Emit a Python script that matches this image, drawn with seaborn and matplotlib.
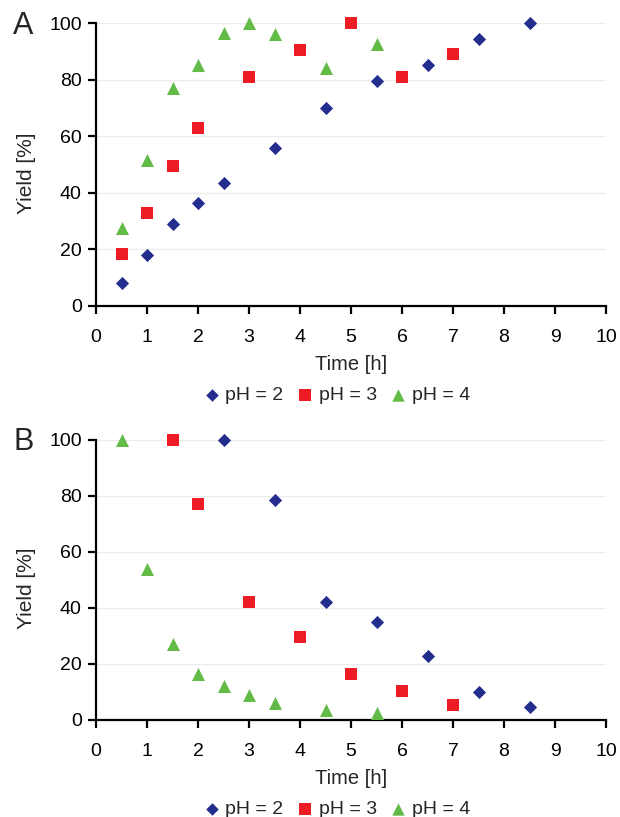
import pandas as pd
import seaborn as sns
import matplotlib.pyplot as plt

# Panel A data
a_ph2_t = [0.5, 1, 1.5, 2, 2.5, 3.5, 4.5, 5.5, 6.5, 7.5, 8.5]
a_ph2_y = [8, 18, 29, 36.5, 43.5, 56, 70, 79.5, 85, 94.5, 100]
a_ph3_t = [0.5, 1, 1.5, 2, 3, 4, 5, 6, 7]
a_ph3_y = [18.5, 33, 49.5, 63, 81, 90.5, 100, 81, 89]
a_ph4_t = [0.5, 1, 1.5, 2, 2.5, 3, 3.5, 4.5, 5.5]
a_ph4_y = [27.5, 51.5, 77, 85, 96.5, 100, 96, 84, 92.5]

# Panel B data
b_ph2_t = [2.5, 3.5, 4.5, 5.5, 6.5, 7.5, 8.5]
b_ph2_y = [100, 78.5, 42, 35, 23, 10, 4.5]
b_ph3_t = [1.5, 2, 3, 4, 5, 6, 7]
b_ph3_y = [100, 77, 42, 29.5, 16.5, 10.5, 5.5]
b_ph4_t = [0.5, 1, 1.5, 2, 2.5, 3, 3.5, 4.5, 5.5]
b_ph4_y = [100, 54, 27, 16.5, 12, 9, 6, 3.5, 2.5]

labels = ["pH = 2", "pH = 3", "pH = 4"]
colors = {"pH = 2": "#232d8e", "pH = 3": "#ed1c24", "pH = 4": "#62bb46"}
markers = {"pH = 2": "D", "pH = 3": "s", "pH = 4": "^"}
sizes = {"pH = 2": 45, "pH = 3": 78, "pH = 4": 88}


def make_df(ts, ys):
    rows = []
    for lab, t, y in zip(labels, ts, ys):
        for ti, yi in zip(t, y):
            rows.append({"Time": ti, "Yield": yi, "pH": lab})
    return pd.DataFrame(rows)


df_a = make_df([a_ph2_t, a_ph3_t, a_ph4_t], [a_ph2_y, a_ph3_y, a_ph4_y])
df_b = make_df([b_ph2_t, b_ph3_t, b_ph4_t], [b_ph2_y, b_ph3_y, b_ph4_y])

sns.set_style("white")
plt.rcParams['font.family'] = ['Liberation Sans', 'DejaVu Sans']

W, H = 620, 817
fig = plt.figure(figsize=(W / 100, H / 100), dpi=100)
# axes boxes in pixels: left, right, top, bottom
x0, x1 = 96, 606
ax_a = fig.add_axes([x0 / W, 1 - 306 / H, (x1 - x0) / W, (306 - 23) / H])
ax_b = fig.add_axes([x0 / W, 1 - 720 / H, (x1 - x0) / W, (720 - 440) / H])

panels = [(ax_a, df_a, "A", 26, 395), (ax_b, df_b, "B", 442, 809)]
for ax, df, letter, letter_y, leg_y in panels:
    for lab in labels:
        sub = df[df["pH"] == lab]
        sns.scatterplot(data=sub, x="Time", y="Yield", ax=ax, color=colors[lab],
                        marker=markers[lab], s=sizes[lab], linewidth=0,
                        label=lab, clip_on=False, zorder=3)
    ax.set_xlim(0, 10)
    ax.set_ylim(0, 100)
    ax.set_xticks(range(0, 11))
    ax.set_yticks(range(0, 101, 20))
    ax.yaxis.grid(True, color="#ececec", linewidth=1)
    ax.set_axisbelow(True)
    for side in ["top", "right"]:
        ax.spines[side].set_visible(False)
    for side in ["left", "bottom"]:
        ax.spines[side].set_color("black")
        ax.spines[side].set_linewidth(1.6)
    ax.tick_params(axis="both", direction="out", length=5.8, width=1.6,
                   labelsize=14, colors="black", left=True, bottom=True)
    ax.tick_params(axis="x", pad=11)
    ax.tick_params(axis="y", pad=4.5)
    ax.set_xlabel("Time [h]", fontsize=14.5, labelpad=6.5)
    ax.set_ylabel("Yield [%]", fontsize=15)
    ax.yaxis.set_label_coords(-0.117, 0.47)
    fig.text(13 / W, 1 - letter_y / H, letter, fontsize=22,
             ha="left", va="center")
    ax.legend(loc="center", bbox_to_anchor=(337 / W, 1 - leg_y / H),
              bbox_transform=fig.transFigure, ncol=3, frameon=False,
              fontsize=14, handlelength=0.8, handletextpad=0.3,
              columnspacing=0.7, markerscale=0.95, borderpad=0)

fig.savefig("out.png", dpi=100)
